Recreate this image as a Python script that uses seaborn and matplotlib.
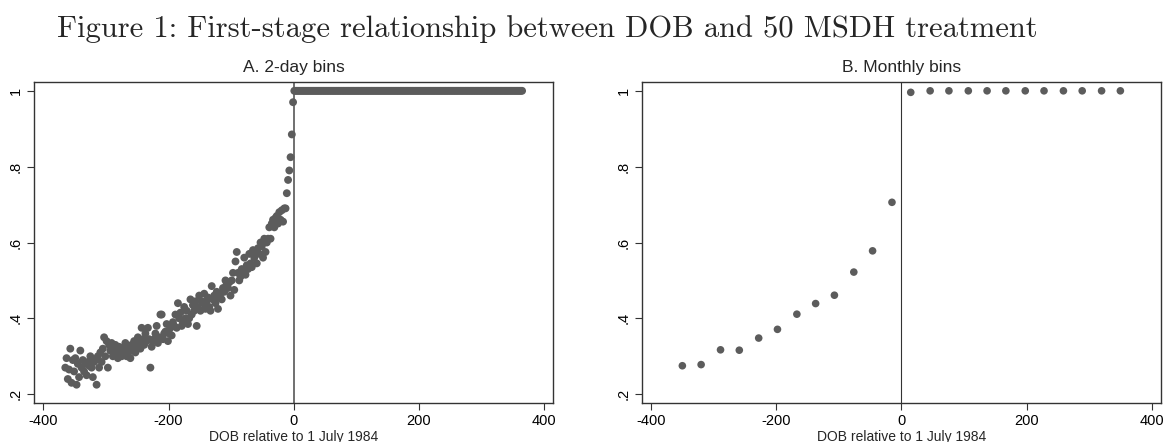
import numpy as np
import pandas as pd
import seaborn as sns
import matplotlib.pyplot as plt

# 2-day bins, share treated (left of cutoff)
left_x = np.arange(-365, 0, 2)
left_y = [
    0.27, 0.295, 0.24, 0.265, 0.32, 0.23, 0.29, 0.26, 0.295, 0.225,
    0.28, 0.245, 0.315, 0.27, 0.29, 0.26, 0.28, 0.25, 0.285, 0.275,
    0.30, 0.27, 0.245, 0.285, 0.29, 0.225, 0.30, 0.27, 0.31, 0.285,
    0.32, 0.35, 0.30, 0.34, 0.27, 0.33, 0.315, 0.335, 0.30, 0.32,
    0.33, 0.31, 0.295, 0.325, 0.315, 0.30, 0.32, 0.31, 0.335, 0.30,
    0.305, 0.32, 0.295, 0.33, 0.315, 0.34, 0.31, 0.325, 0.35, 0.335,
    0.32, 0.375, 0.345, 0.33, 0.36, 0.34, 0.375, 0.345, 0.27, 0.325,
    0.34, 0.345, 0.36, 0.38, 0.335, 0.35, 0.41, 0.41, 0.345, 0.36,
    0.365, 0.385, 0.34, 0.36, 0.375, 0.355, 0.39, 0.38, 0.41, 0.375,
    0.44, 0.40, 0.415, 0.38, 0.39, 0.43, 0.40, 0.42, 0.385, 0.40,
    0.45, 0.41, 0.435, 0.42, 0.445, 0.38, 0.43, 0.46, 0.42, 0.445,
    0.44, 0.465, 0.425, 0.445, 0.455, 0.43, 0.42, 0.485, 0.45, 0.46,
    0.44, 0.47, 0.425, 0.455, 0.465, 0.45, 0.48, 0.47, 0.50, 0.49,
    0.48, 0.495, 0.46, 0.50, 0.52, 0.475, 0.55, 0.575, 0.52, 0.50,
    0.51, 0.53, 0.52, 0.56, 0.515, 0.54, 0.53, 0.57, 0.545, 0.535,
    0.58, 0.56, 0.575, 0.545, 0.585, 0.57, 0.60, 0.59, 0.56, 0.61,
    0.575, 0.60, 0.61, 0.64, 0.61, 0.65, 0.66, 0.64, 0.665, 0.67,
    0.65, 0.68, 0.66, 0.685, 0.655, 0.69, 0.69, 0.73, 0.765, 0.79,
    0.825, 0.885, 0.97,
]
# everyone born after the cutoff is treated
right_x = np.arange(1, 366, 2)
right_y = [1.0] * len(right_x)

# monthly bins
month_x = [-350, -320, -289, -259, -228, -198, -167, -137, -107, -76, -46, -15,
           15, 46, 76, 107, 137, 167, 198, 228, 259, 289, 320, 350]
month_y = [0.275, 0.278, 0.317, 0.316, 0.348, 0.371, 0.411, 0.439, 0.461, 0.522, 0.578, 0.706,
           0.996, 1.0, 1.0, 1.0, 1.0, 1.0, 1.0, 1.0, 1.0, 1.0, 1.0, 1.0]

days = pd.DataFrame({'dob': np.concatenate([left_x, right_x]),
                     'treated': np.concatenate([left_y, right_y])})
months = pd.DataFrame({'dob': month_x, 'treated': month_y})

sns.set_style('white')
plt.rcParams['font.family'] = ['Liberation Sans', 'DejaVu Sans']

dot = '#5c5c5c'
fig = plt.figure(figsize=(11.65, 4.42), dpi=100)
ax1 = fig.add_axes([0.0292, 0.0876, 0.4458, 0.7275])
ax2 = fig.add_axes([0.5508, 0.0876, 0.4458, 0.7275])

ax1.axvline(0, color='#707070', lw=1.4, zorder=1)
ax2.axvline(0, color='#333333', lw=0.8, zorder=1)
sns.scatterplot(data=days, x='dob', y='treated', ax=ax1, color=dot,
                s=32, edgecolor='none', zorder=3)
sns.scatterplot(data=months, x='dob', y='treated', ax=ax2, color=dot,
                s=30, edgecolor='none', zorder=3)

for ax, title in [(ax1, 'A. 2-day bins'), (ax2, 'B. Monthly bins')]:
    ax.set_xlim(-415, 415)
    ax.set_ylim(0.176, 1.024)
    ax.set_xticks([-400, -200, 0, 200, 400])
    ax.set_xticklabels(['-400', '-200', '0', '200', '400'])
    ax.set_yticks([0.2, 0.4, 0.6, 0.8, 1.0])
    ax.set_yticklabels(['.2', '.4', '.6', '.8', '1'], rotation=90, va='center')
    ax.tick_params(axis='both', direction='out', length=5, width=0.8,
                   color='#333333', labelsize=10.5, pad=3, labelcolor='black')
    ax.tick_params(left=True, bottom=True)
    for sp in ax.spines.values():
        sp.set_color('#333333')
        sp.set_linewidth(1.0)
    ax.set_xlabel('DOB relative to 1 July 1984', fontsize=10, labelpad=1)
    ax.set_ylabel('')
    ax.set_title(title, fontsize=12.5, pad=7)

fig.text(0.4695, 0.935, 'Figure 1: First-stage relationship between DOB and 50 MSDH treatment',
         family='cmr10', fontsize=22, ha='center', va='center')

fig.savefig('out.png', dpi=100)
